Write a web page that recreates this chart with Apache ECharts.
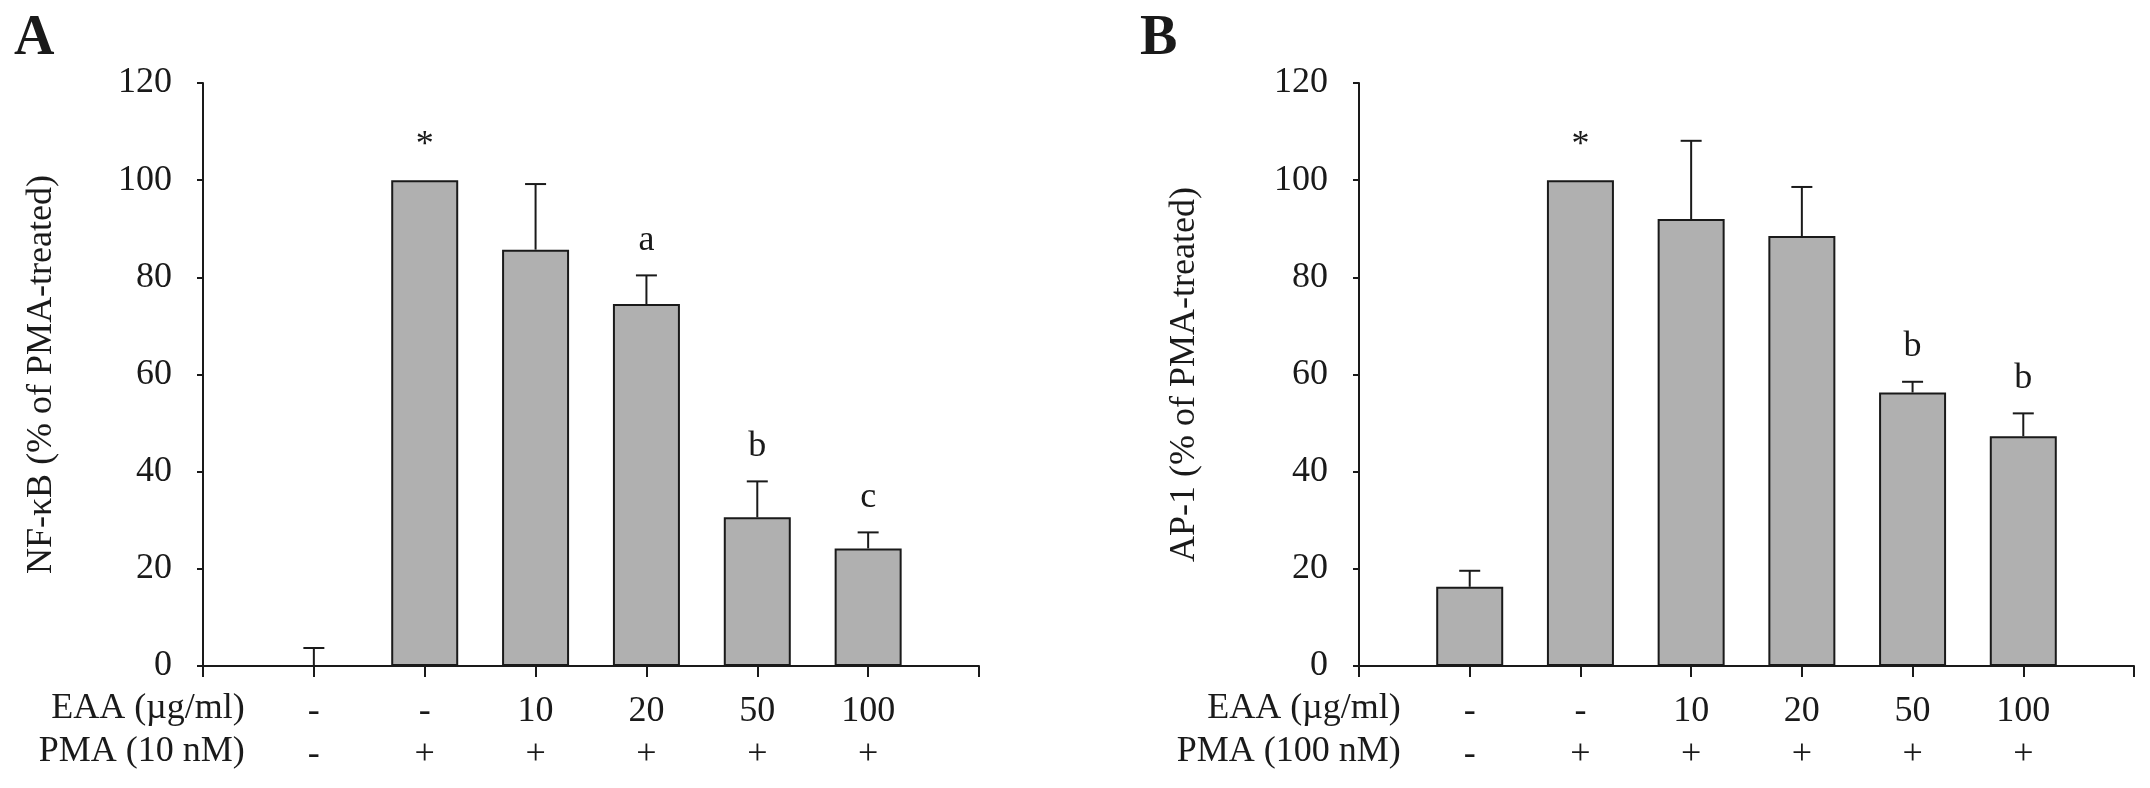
<html lang="en">
<head>
  <meta charset="UTF-8">
  <title>NF-kB and AP-1 activity</title>
  <style>
    body { margin: 0; padding: 0; background: #fff; }
    #chart { width: 2150px; height: 788px; }
  </style>
  <script src="https://cdn.jsdelivr.net/npm/echarts@6/dist/echarts.min.js"></script>
</head>
<body>
  <div id="chart"></div>
  <script>
    // data
    let eaaLabels = ['-', '-', '10', '20', '50', '100'];
    let pmaLabels = ['-', '+', '+', '+', '+', '+'];

    let nfkbMean = [0, 100, 85.7, 74.5, 30.6, 24.2];
    let nfkbErr = [3.7, 0, 13.5, 5.9, 7.4, 3.3];
    let nfkbMarks = ['', '*', '', 'a', 'b', 'c'];

    let ap1Mean = [16.3, 100, 92.0, 88.5, 56.3, 47.3];
    let ap1Err = [3.3, 0, 16.1, 10.1, 2.2, 4.7];
    let ap1Marks = ['', '*', '', '', 'b', 'b'];

    let yTicks = { min: 0, max: 120, interval: 20 };

    const font = "'Liberation Serif', 'Times New Roman', serif";
    const ink = '#1a1a1a';
    const fs = 36;

    const grids = [
      { left: 203, top: 83, width: 776, height: 583 },
      { left: 1359, top: 83, width: 775, height: 583 }
    ];
    const step = 776 / 7;

    // 8 slots on the x axis: an empty one at each end
    let slots = [''].concat(eaaLabels.map((e, i) => e + '\n' + pmaLabels[i])).concat(['']);

    function xAxisFor(i) {
      return {
        type: 'category',
        gridIndex: i,
        data: slots,
        boundaryGap: false,
        axisLine: { lineStyle: { color: ink, width: 2 } },
        axisTick: { length: 11, lineStyle: { color: ink, width: 2 } },
        axisLabel: {
          interval: 0,
          margin: 24,
          fontFamily: font,
          fontSize: fs,
          lineHeight: 43,
          color: ink
        },
        splitLine: { show: false }
      };
    }

    function yAxisFor(i, name, gap) {
      return {
        type: 'value',
        gridIndex: i,
        min: yTicks.min,
        max: yTicks.max,
        interval: yTicks.interval,
        name: name,
        nameLocation: 'middle',
        nameGap: gap,
        nameTextStyle: { fontFamily: font, fontSize: fs, color: ink },
        axisLine: { show: true, lineStyle: { color: ink, width: 2 } },
        axisTick: { show: true, length: 6, lineStyle: { color: ink, width: 2 } },
        axisLabel: { margin: 31, fontFamily: font, fontSize: fs, color: ink },
        splitLine: { show: false }
      };
    }

    function barSeries(i, mean) {
      return {
        type: 'bar',
        xAxisIndex: i,
        yAxisIndex: i,
        barWidth: 67,
        data: [null].concat(mean).concat([null]),
        itemStyle: { color: '#b0b0b0', borderColor: ink, borderWidth: 2 },
        silent: true
      };
    }

    function errorSeries(i, mean, err) {
      return {
        type: 'custom',
        xAxisIndex: i,
        yAxisIndex: i,
        silent: true,
        z: 3,
        data: mean.map((m, k) => [k + 1, m, err[k]]),
        renderItem: function (params, api) {
          let x = api.value(0), y = api.value(1), e = api.value(2);
          if (!e) return;
          let b = api.coord([x, y]);
          let t = api.coord([x, y + e]);
          let st = { stroke: ink, lineWidth: 2 };
          return {
            type: 'group',
            children: [
              { type: 'line', shape: { x1: b[0], y1: b[1], x2: t[0], y2: t[1] }, style: st },
              { type: 'line', shape: { x1: t[0] - 10.5, y1: t[1], x2: t[0] + 10.5, y2: t[1] }, style: st }
            ]
          };
        }
      };
    }

    function markSeries(i, mean, err, marks) {
      return {
        type: 'custom',
        xAxisIndex: i,
        yAxisIndex: i,
        silent: true,
        z: 4,
        data: mean.map((m, k) => [k + 1, m + err[k], marks[k]]),
        renderItem: function (params, api) {
          let txt = marks[params.dataIndex];
          if (!txt) return;
          let p = api.coord([api.value(0), api.value(1)]);
          return {
            type: 'text',
            x: p[0],
            y: p[1] - 35,
            style: {
              text: txt,
              fontFamily: font,
              fontSize: fs,
              fill: ink,
              align: 'center',
              verticalAlign: 'middle'
            }
          };
        }
      };
    }

    function rowTitle(i, text, y) {
      return {
        type: 'text',
        right: 2150 - (grids[i].left + step - 69),
        top: y - 21,
        style: { text: text, fontFamily: font, fontSize: fs, fill: ink }
      };
    }

    let chart = echarts.init(document.getElementById('chart'));

    let option = {
      animation: false,
      backgroundColor: '#fff',
      grid: grids,
      xAxis: [xAxisFor(0), xAxisFor(1)],
      yAxis: [
        yAxisFor(0, 'NF-\u03baB (% of PMA-treated)', 143),
        yAxisFor(1, 'AP-1 (% of PMA-treated)', 156)
      ],
      series: [
        barSeries(0, nfkbMean),
        errorSeries(0, nfkbMean, nfkbErr),
        markSeries(0, nfkbMean, nfkbErr, nfkbMarks),
        barSeries(1, ap1Mean),
        errorSeries(1, ap1Mean, ap1Err),
        markSeries(1, ap1Mean, ap1Err, ap1Marks)
      ],
      graphic: [
        { type: 'text', left: 14, top: 12, style: { text: 'A', fontFamily: font, fontSize: 56, fontWeight: 'bold', fill: ink } },
        { type: 'text', left: 1140, top: 12, style: { text: 'B', fontFamily: font, fontSize: 56, fontWeight: 'bold', fill: ink } },
        rowTitle(0, 'EAA (\u00b5g/ml)', 712),
        rowTitle(0, 'PMA (10 nM)', 755),
        rowTitle(1, 'EAA (\u00b5g/ml)', 712),
        rowTitle(1, 'PMA (100 nM)', 755)
      ]
    };

    chart.setOption(option);
  </script>
</body>
</html>
